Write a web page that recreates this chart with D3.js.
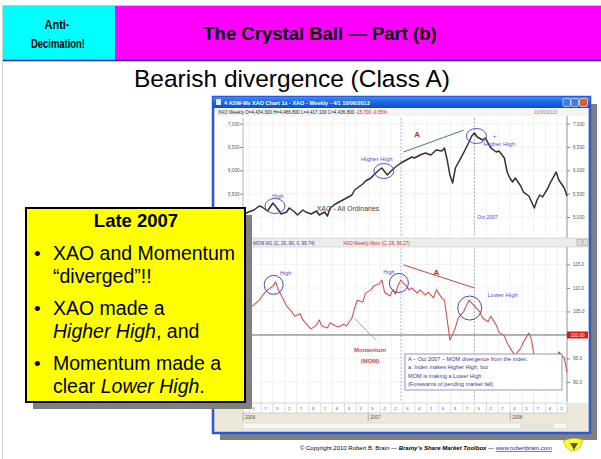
<!DOCTYPE html>
<meta charset="utf-8">
<style>
  body { margin: 0; background: #fff; }
  svg text { font-family: Arial, "Liberation Sans", sans-serif; }
</style>
<body>
<script src="https://cdnjs.cloudflare.com/ajax/libs/d3/7.8.5/d3.min.js"></script>
<script>

// XAO weekly close (week number counted from 13 Feb 2006)
var xaoWeek = [0, 2, 4, 6, 7, 9, 11, 13, 14, 16, 17, 19, 20, 22, 23, 25, 27, 28, 30, 31,
  32, 34, 36, 38, 40, 41, 42, 44, 45, 47, 48, 50, 51, 53, 54, 56, 58, 60, 62, 63,
  65, 67, 69, 71, 73, 74, 75, 76, 77, 78, 80, 81, 83, 84, 85, 86, 88, 89, 91, 93,
  94, 96, 97, 98, 99, 100, 102, 103, 105, 106, 107, 108, 109, 110, 112, 113, 115, 116, 118, 119];
var xaoClose = [5044, 5108, 5151, 5237, 5215, 5130, 5301, 5151, 5065, 5108, 5194, 5108, 5044, 5151, 5108, 5065, 5130, 5044, 5108, 5022,
  5194, 5280, 5344, 5408, 5472, 5579, 5622, 5708, 5772, 5836, 5900, 6007, 6050, 5900, 5964, 6072, 6157, 6222, 6286, 6264,
  6329, 6372, 6329, 6436, 6414, 6479, 6222, 5900, 5729, 6050, 6264, 6372, 6607, 6736, 6800, 6714, 6650, 6693, 6479, 6393,
  6414, 6264, 5965, 5836, 5750, 5836, 5665, 5536, 5451, 5322, 5194, 5365, 5472, 5429, 5622, 5750, 5964, 5793, 5622, 5451];

// Momentum (26 week ratio, 100 = no change)
var momWeek = [0, 2, 4, 6, 7, 9, 11, 12, 13, 15, 16, 18, 19, 21, 22, 24, 25, 27, 28, 29,
  31, 32, 34, 35, 37, 38, 40, 41, 42, 44, 45, 47, 48, 50, 51, 52, 54, 55, 56, 57,
  58, 60, 61, 62, 64, 65, 67, 68, 70, 71, 73, 74, 75, 76, 78, 79, 81, 82, 83, 84,
  85, 87, 88, 90, 91, 93, 94, 96, 97, 99, 100, 102, 103, 105, 106, 107, 109, 111, 113, 115, 116, 118, 119];
var momValue = [104.9, 105.7, 106.4, 107.4, 108.3, 109.6, 110.4, 111.3, 109.6, 107.4, 106.2, 104.9, 104.0, 104.5, 103.2, 101.9, 101.3, 102.1, 103.2, 101.9,
  101.5, 102.6, 101.9, 101.7, 102.3, 101.9, 103.6, 105.7, 107.4, 107.0, 108.9, 109.6, 110.4, 110.9, 111.7, 109.1, 108.3, 109.6, 108.7, 110.6,
  111.7, 110.4, 109.6, 110.0, 108.9, 109.6, 108.5, 109.1, 107.9, 109.6, 107.9, 107.4, 103.2, 98.9, 101.5, 103.6, 104.9, 106.2, 107.4, 106.8,
  106.2, 104.9, 103.6, 102.8, 104.0, 102.1, 100.6, 99.8, 98.3, 96.4, 95.7, 97.2, 98.5, 100.4, 98.9, 95.1, 92.1, 90.9, 92.6, 94.3, 96.4, 95.1, 92.1];

var xaoTicks = [5000, 5500, 6000, 6500, 7000];
var momTicks = [90, 95, 105, 110, 115];
var yearLabels = ["2006", "2007", "2008"];
var markWeeks = [58, 85];             // dotted verticals: start of "A", Oct 2007
var xaoHighs = [11, 51, 85];          // weeks circled on the index
var momHighs = [12, 58, 84];          // weeks circled on momentum
var xaoTrendWeek = [59, 81], xaoTrendValue = [6393, 6860];
var momTrendWeek = [59, 85], momTrendValue = [114.9, 110.0];

var boxTitle = "Late 2007";
var boxLines = [
  [["XAO and Momentum", ""]], [["\u201cdiverged\u201d!!", ""]],
  [["XAO made a", ""]], [["Higher High", "i"], [", and", ""]],
  [["Momentum made a", ""]], [["clear ", ""], ["Lower High", "i"], [".", ""]]
];
var noteLines = ["A \u2013 Oct 2007 \u2013 MOM divergence from the index:",
  "a. Index makes Higher High, but",
  "MOM is making a Lower High",
  "(Forewarns of pending market fall)"];

var W = 601, H = 459;
var svg = d3.select("body").append("svg").attr("width", W).attr("height", H);

var defs = svg.append("defs");
var tg = defs.append("linearGradient").attr("id", "tbar").attr("x1", 0).attr("y1", 0).attr("x2", 0).attr("y2", 1);
tg.append("stop").attr("offset", 0).attr("stop-color", "#3a8cf5");
tg.append("stop").attr("offset", 0.5).attr("stop-color", "#1f64e0");
tg.append("stop").attr("offset", 1).attr("stop-color", "#0a4fd0");

// slide frame + header
svg.append("line").attr("x1", 2).attr("x2", W).attr("y1", 5.5).attr("y2", 5.5).attr("stroke", "#c8c8c8");
svg.append("line").attr("x1", 2.5).attr("x2", 2.5).attr("y1", 5).attr("y2", H).attr("stroke", "#d0d0d0");
svg.append("rect").attr("x", 3).attr("y", 6).attr("width", 112).attr("height", 54).attr("fill", "#00ffff");
svg.append("rect").attr("x", 115).attr("y", 6).attr("width", W - 115).attr("height", 54).attr("fill", "#ff00ff");
svg.append("line").attr("x1", 3).attr("x2", W).attr("y1", 60.5).attr("y2", 60.5).attr("stroke", "#2020c0").attr("stroke-width", 1.5);

svg.append("text").attr("x", 57).attr("y", 29).attr("text-anchor", "middle")
  .attr("font-size", 12.5).attr("font-weight", "bold").attr("textLength", 25).attr("lengthAdjust", "spacingAndGlyphs")
  .text("Anti-");
svg.append("text").attr("x", 58).attr("y", 47.5).attr("text-anchor", "middle")
  .attr("font-size", 12.5).attr("font-weight", "bold").attr("textLength", 54).attr("lengthAdjust", "spacingAndGlyphs")
  .text("Decimation!");
svg.append("text").attr("x", 320).attr("y", 40).attr("text-anchor", "middle")
  .attr("font-size", 18.5).attr("font-weight", "bold").text("The Crystal Ball \u2014 Part (b)");
svg.append("text").attr("x", 292).attr("y", 87).attr("text-anchor", "middle")
  .attr("font-size", 24.5).text("Bearish divergence (Class A)");

// ---- the screenshot window ----
var win = {x: 213, y: 97, w: 377, h: 336};
svg.append("rect").attr("x", win.x + 7).attr("y", win.y + 7).attr("width", win.w).attr("height", win.h).attr("fill", "#808080");
svg.append("rect").attr("x", win.x).attr("y", win.y).attr("width", win.w).attr("height", win.h)
  .attr("fill", "#ece9d8").attr("stroke", "#2a5ad8").attr("stroke-width", 2.5);
svg.append("rect").attr("x", win.x).attr("y", win.y).attr("width", win.w).attr("height", 11).attr("fill", "url(#tbar)");
svg.append("text").attr("x", 224).attr("y", 105).attr("font-size", 5.5).attr("fill", "#fff").attr("font-weight", "bold")
  .text("4 ASW-Ms XAO Chart 1x - XAO - Weekly - 4/1 10/06/2013");
svg.append("rect").attr("x", 216).attr("y", 99).attr("width", 5).attr("height", 6).attr("fill", "#dfe8ff");
[563, 571].forEach(function(bx) {
  svg.append("rect").attr("x", bx).attr("y", 98.5).attr("width", 7.5).attr("height", 8).attr("rx", 1.5)
    .attr("fill", "#3d7cf0").attr("stroke", "#fff").attr("stroke-width", 0.6);
});
svg.append("rect").attr("x", 579.5).attr("y", 98.5).attr("width", 8).attr("height", 8).attr("rx", 1.5)
  .attr("fill", "#e05a2a").attr("stroke", "#fff").attr("stroke-width", 0.6);

// toolbar / quote row
svg.append("rect").attr("x", 215).attr("y", 108).attr("width", 373).attr("height", 8).attr("fill", "#f4f4f4");
var quote = svg.append("text").attr("x", 218).attr("y", 114).attr("font-size", 4.6);
quote.append("tspan").attr("fill", "#222").text("XAO   Weekly   O=4,434.300  H=4,486.800  L=4,417.100  C=4,436.800  ");
quote.append("tspan").attr("fill", "#d02020").text("-15.700   -0.35%");
svg.append("text").attr("x", 534).attr("y", 114).attr("font-size", 4.6).attr("fill", "#888").text("10/06/2013");

// chart client area
var plotL = 243, plotR = 567;
svg.append("rect").attr("x", 215).attr("y", 116).attr("width", 373).attr("height", 288).attr("fill", "#fff");

var start = new Date(2006, 1, 13), end = new Date(2008, 4, 26);
function wd(w) { return d3.timeDay.offset(start, 7 * w); }
var x = d3.scaleTime().domain([start, end]).range([plotL, plotR]);
var yTop = d3.scaleLinear().domain([4573, 7185]).range([237, 115]);
var yMom = d3.scaleLinear().domain([85.74, 118.72]).range([402, 247]);

var months = x.ticks(d3.timeMonth);

// faint grid
var grid = svg.append("g").attr("stroke", "#e8e8f0").attr("stroke-width", 0.6);
months.forEach(function(m) {
  grid.append("line").attr("x1", x(m)).attr("x2", x(m)).attr("y1", 118).attr("y2", 237);
  grid.append("line").attr("x1", x(m)).attr("x2", x(m)).attr("y1", 248).attr("y2", 402);
});
xaoTicks.forEach(function(t) {
  grid.append("line").attr("x1", plotL).attr("x2", plotR).attr("y1", yTop(t)).attr("y2", yTop(t));
});
momTicks.forEach(function(t) {
  grid.append("line").attr("x1", plotL).attr("x2", plotR).attr("y1", yMom(t)).attr("y2", yMom(t));
});

// marker verticals
markWeeks.forEach(function(w) {
  [[118, 237], [248, 402]].forEach(function(r) {
    svg.append("line").attr("x1", x(wd(w))).attr("x2", x(wd(w))).attr("y1", r[0]).attr("y2", r[1])
      .attr("stroke", "#a0a0c8").attr("stroke-width", 0.8).attr("stroke-dasharray", "2,1.5");
  });
});

// axes (left and right of each panel)
var axL = svg.append("g").attr("transform", "translate(" + plotL + ",0)")
  .call(d3.axisLeft(yTop).tickValues(xaoTicks).tickSize(3).tickFormat(d3.format(",")));
var axR = svg.append("g").attr("transform", "translate(" + plotR + ",0)")
  .call(d3.axisRight(yTop).tickValues(xaoTicks).tickSize(3).tickFormat(d3.format(",")));
var axR2 = svg.append("g").attr("transform", "translate(" + plotR + ",0)")
  .call(d3.axisRight(yMom).tickValues(momTicks).tickSize(3).tickFormat(d3.format(".1f")));
var axL2 = svg.append("g").attr("transform", "translate(" + plotL + ",0)")
  .call(d3.axisLeft(yMom).tickValues(momTicks).tickSize(3).tickFormat(d3.format(".1f")));
[axL, axR, axR2, axL2].forEach(function(a) {
  a.select(".domain").remove();
  a.selectAll("line").attr("stroke", "#888");
  a.selectAll("text").attr("font-size", 4.6).attr("fill", "#555").attr("font-family", "Arial");
});
axL.selectAll("text").attr("x", -15).attr("text-anchor", "start");
axL2.selectAll("text").attr("x", -15).attr("text-anchor", "start");
svg.append("line").attr("x1", plotL).attr("x2", plotL).attr("y1", 118).attr("y2", 402).attr("stroke", "#999").attr("stroke-width", 0.7);
svg.append("line").attr("x1", plotR).attr("x2", plotR).attr("y1", 116).attr("y2", 402).attr("stroke", "#777").attr("stroke-width", 0.8);

// momentum panel header bar
svg.append("rect").attr("x", 215).attr("y", 238).attr("width", 373).attr("height", 9)
  .attr("fill", "#ececec").attr("stroke", "#c8c8c8").attr("stroke-width", 0.6);
svg.append("text").attr("x", 253).attr("y", 244.5).attr("font-size", 4.6).attr("fill", "#4040b0")
  .text("MOM  W1 (C, 26, 90, 0, 99.74)");
svg.append("text").attr("x", 343).attr("y", 244.5).attr("font-size", 4.6).attr("fill", "#d03030")
  .text("XAO  Weekly Mom (C, 26, 96.27)");
[577, 583].forEach(function(bx) {
  svg.append("rect").attr("x", bx).attr("y", 239.5).attr("width", 5).attr("height", 6)
    .attr("fill", "#ddd").attr("stroke", "#999").attr("stroke-width", 0.5);
});

// 100 line + value flag
svg.append("line").attr("x1", plotL).attr("x2", plotR).attr("y1", yMom(100)).attr("y2", yMom(100))
  .attr("stroke", "#666").attr("stroke-width", 1);
svg.append("rect").attr("x", plotR).attr("y", yMom(100) - 3.5).attr("width", 21).attr("height", 7).attr("fill", "#e01818");
svg.append("text").attr("x", plotR + 10.5).attr("y", yMom(100) + 1.8).attr("text-anchor", "middle")
  .attr("font-size", 4.6).attr("fill", "#fff").text("100.00");

// pointer from the "Momentum" label
svg.append("line").attr("x1", x(wd(41))).attr("y1", yMom(103.5)).attr("x2", x(wd(49))).attr("y2", yMom(98.8))
  .attr("stroke", "#999").attr("stroke-width", 0.8);

// series
var xaoLine = d3.line().x(function(d) { return x(wd(d[0])); }).y(function(d) { return yTop(d[1]); });
svg.append("path").datum(d3.zip(xaoWeek, xaoClose)).attr("d", xaoLine)
  .attr("fill", "none").attr("stroke", "#333").attr("stroke-width", 1.5).attr("stroke-linejoin", "round");
var momLine = d3.line().x(function(d) { return x(wd(d[0])); }).y(function(d) { return yMom(d[1]); });
svg.append("path").datum(d3.zip(momWeek, momValue)).attr("d", momLine)
  .attr("fill", "none").attr("stroke", "#d85050").attr("stroke-width", 1.1).attr("stroke-linejoin", "round");

function valAt(weeks, vals, w) { return vals[weeks.indexOf(w)]; }

// annotations on the index
var blue = "#5a50d0";
xaoHighs.forEach(function(w, i) {
  var cx = x(wd(w)) + 2, cy = yTop(valAt(xaoWeek, xaoClose, w)) + 3;
  svg.append("ellipse").attr("cx", cx).attr("cy", cy).attr("rx", 10).attr("ry", 7.5)
    .attr("fill", "none").attr("stroke", blue).attr("stroke-width", 1);
});
svg.append("text").attr("x", x(wd(11)) + 5).attr("y", yTop(5301) - 5).attr("text-anchor", "middle")
  .attr("font-size", 5.5).attr("fill", blue).text("High");
svg.append("text").attr("x", x(wd(51)) - 5).attr("y", yTop(6050) - 7).attr("text-anchor", "middle")
  .attr("font-size", 6).attr("fill", blue).text("Higher High");
svg.append("text").attr("x", x(wd(85)) + 25).attr("y", yTop(6800) + 13).attr("text-anchor", "middle")
  .attr("font-size", 6).attr("fill", blue).text("Higher High");
svg.append("text").attr("x", x(wd(85)) + 20).attr("y", yTop(6800) + 5).attr("text-anchor", "middle")
  .attr("font-size", 6).attr("fill", blue).text("+");
svg.append("text").attr("x", x(wd(85)) + 13).attr("y", 219).attr("text-anchor", "middle")
  .attr("font-size", 5).attr("fill", blue).text("Oct 2007");
svg.append("line")
  .attr("x1", x(wd(xaoTrendWeek[0]))).attr("y1", yTop(xaoTrendValue[0]))
  .attr("x2", x(wd(xaoTrendWeek[1]))).attr("y2", yTop(xaoTrendValue[1]))
  .attr("stroke", "#3c8c3c").attr("stroke-width", 1);
svg.append("text").attr("x", x(wd(64))).attr("y", 137).attr("text-anchor", "middle")
  .attr("font-size", 8).attr("font-weight", "bold").attr("fill", "#d02828").text("A");
svg.append("text").attr("x", 348).attr("y", 211).attr("text-anchor", "middle")
  .attr("font-size", 7).attr("fill", "#444").text("XAO - All Ordinaries");

// annotations on momentum
momHighs.forEach(function(w, i) {
  var r = i == 2 ? 12 : 9.5;
  svg.append("circle").attr("cx", x(wd(w)) - 2).attr("cy", yMom(valAt(momWeek, momValue, w)) + (i == 2 ? 5 : 3)).attr("r", r)
    .attr("fill", "none").attr("stroke", "#4848b8").attr("stroke-width", 1);
});
svg.append("text").attr("x", x(wd(12)) + 10).attr("y", 275).attr("text-anchor", "middle")
  .attr("font-size", 5.5).attr("fill", blue).text("High");
svg.append("text").attr("x", x(wd(58)) - 12).attr("y", 274).attr("text-anchor", "middle")
  .attr("font-size", 5.5).attr("fill", blue).text("High");
svg.append("text").attr("x", x(wd(84)) + 31).attr("y", 297).attr("text-anchor", "middle")
  .attr("font-size", 6).attr("fill", blue).text("Lower High");
svg.append("line")
  .attr("x1", x(wd(momTrendWeek[0]))).attr("y1", yMom(momTrendValue[0]))
  .attr("x2", x(wd(momTrendWeek[1]))).attr("y2", yMom(momTrendValue[1]))
  .attr("stroke", "#d04040").attr("stroke-width", 1);
svg.append("text").attr("x", x(wd(71))).attr("y", 275).attr("text-anchor", "middle")
  .attr("font-size", 8).attr("font-weight", "bold").attr("fill", "#d02828").text("A");
svg.append("text").attr("x", 370).attr("y", 352).attr("text-anchor", "middle")
  .attr("font-size", 6).attr("font-weight", "bold").attr("fill", "#e04050").text("Momentum");
svg.append("text").attr("x", 370).attr("y", 363).attr("text-anchor", "middle")
  .attr("font-size", 6).attr("font-weight", "bold").attr("fill", "#e04050").text("(MOM)");

// note box
svg.append("rect").attr("x", 405).attr("y", 354).attr("width", 157).attr("height", 36)
  .attr("fill", "#fff").attr("stroke", "#8080a0").attr("stroke-width", 0.8);
noteLines.forEach(function(t, i) {
  svg.append("text").attr("x", 408).attr("y", 361 + i * 8.3).attr("font-size", 5.6).attr("fill", "#3a3a9a").text(t);
});

// date axis
svg.append("rect").attr("x", 215).attr("y", 403).attr("width", 373).attr("height", 28).attr("fill", "#ece9d8");
svg.append("rect").attr("x", plotL).attr("y", 403).attr("width", plotR - plotL).attr("height", 10)
  .attr("fill", "#fff").attr("stroke", "#aaa").attr("stroke-width", 0.5);
months.forEach(function(m) {
  var fri = d3.timeFriday.ceil(m);
  svg.append("line").attr("x1", x(m)).attr("x2", x(m)).attr("y1", 403).attr("y2", 413).attr("stroke", "#bbb").attr("stroke-width", 0.5);
  svg.append("text").attr("x", x(m) + 3).attr("y", 410).attr("font-size", 4.4).attr("fill", "#555").text(fri.getDate());
});
var years = [start].concat(x.ticks(d3.timeYear));
years.forEach(function(yd, i) {
  var xp = i == 0 ? plotL : x(yd);
  svg.append("line").attr("x1", xp).attr("x2", xp).attr("y1", 413).attr("y2", 421).attr("stroke", "#888").attr("stroke-width", 0.6);
  svg.append("text").attr("x", xp + 2).attr("y", 419).attr("font-size", 4.6).attr("fill", "#555").text(yearLabels[i]);
});
// scrollbar
svg.append("rect").attr("x", plotL).attr("y", 423).attr("width", plotR - plotL).attr("height", 6)
  .attr("fill", "#f6f6f2").attr("stroke", "#ccc").attr("stroke-width", 0.5);
svg.append("rect").attr("x", 520).attr("y", 424).attr("width", 34).attr("height", 4).attr("fill", "#e4e4dc");

// yellow call-out box
svg.append("rect").attr("x", 33).attr("y", 215).attr("width", 219).attr("height", 194).attr("fill", "#808080");
svg.append("rect").attr("x", 26).attr("y", 208).attr("width", 219).attr("height", 194)
  .attr("fill", "#ffff00").attr("stroke", "#000").attr("stroke-width", 2);
svg.append("text").attr("x", 136).attr("y", 227).attr("text-anchor", "middle")
  .attr("font-size", 18.5).attr("font-weight", "bold").text(boxTitle);
var baselines = [260, 282.5, 315, 337.5, 370, 392.5];
boxLines.forEach(function(parts, i) {
  if (i % 2 == 0) svg.append("text").attr("x", 34).attr("y", baselines[i]).attr("font-size", 19).text("\u2022");
  var t = svg.append("text").attr("x", 53).attr("y", baselines[i]).attr("font-size", 19.5);
  parts.forEach(function(p) {
    t.append("tspan").attr("font-style", p[1] == "i" ? "italic" : "normal").text(p[0]);
  });
});

// footer
var ft = svg.append("text").attr("x", 426).attr("y", 450).attr("text-anchor", "middle").attr("font-size", 6);
ft.append("tspan").text("\u00a9 Copyright 2010 Robert B. Brain \u2014 ");
ft.append("tspan").attr("font-weight", "bold").attr("font-style", "italic").text("Brainy\u2019s Share Market Toolbox");
ft.append("tspan").text(" \u2014 ");
ft.append("tspan").attr("fill", "#2020c0").attr("text-decoration", "underline").text("www.robertbrain.com");

// little logo
svg.append("path").attr("d", "M563,441 Q573,436 583,440 L580,447 Q573,455 566,447 Z").attr("fill", "#ffff20").attr("stroke", "#9a9a40").attr("stroke-width", 0.6);
svg.append("path").attr("d", "M570,443 L574,450 L578,443 Z").attr("fill", "#555");
</script>
</body>
